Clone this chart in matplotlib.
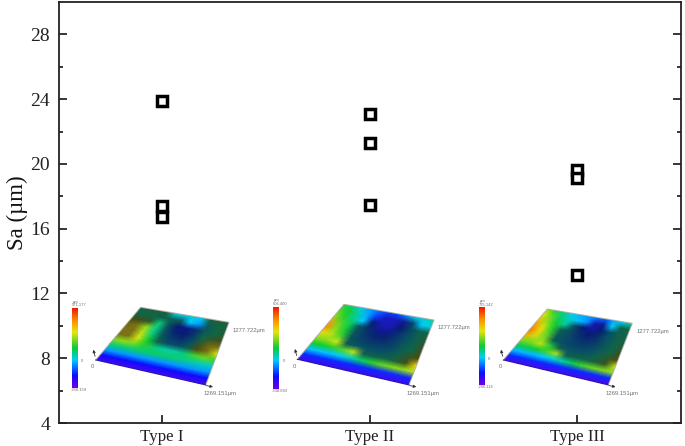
import numpy as np
import matplotlib
matplotlib.use('Agg')
import matplotlib.pyplot as plt
from matplotlib.colors import LinearSegmentedColormap

plt.rcParams['font.family'] = ['Liberation Serif', 'DejaVu Serif']

categorias = ['Type I', 'Type II', 'Type III']
sa_type1 = [23.9, 17.4, 16.7]
sa_type2 = [23.1, 21.3, 17.45]
sa_type3 = [19.6, 19.1, 13.15]

# surface maps read by eye, rows go front -> back
# positive = normal colour scale, negative = shaded crater colours
mapa1 = [[.06] * 11, [.15] * 11, [.30] * 11,
         [.45, .45, .45, .46, .46, .46, .46, .44, .42, .40, .40],
         [.60, .62, .60, .52, .45, .42, .42, .45, .55, .58, .55],
         [-.02, -.02, .68, .50, -.30, -.45, -.45, -.35, -.05, -.02, .68],
         [-.02, -.02, .66, .45, -.35, -.55, -.60, -.45, -.15, -.03, -.02],
         [-.03, -.02, .62, .44, -.40, -.65, -.70, -.55, -.25, -.15, -.10],
         [-.10, -.10, -.15, .45, -.40, -.70, -.80, -.60, -.35, -.25, -.20],
         [-.25, -.25, -.25, -.30, -.30, -.35, .35, .30, -.35, -.25, -.20],
         [-.25, -.20, -.20, -.20, .38, .36, .38, .36, -.20, -.20, -.20]]
mapa2 = [[.07] * 11, [.18] * 11,
         [.34, .34, .34, .36, .40, .46, .52, .58, .60, .62, .66],
         [.50, .50, .52, .56, .66, -.30, -.30, -.25, -.20, -.10, .74],
         [.62, .62, .68, -.35, -.40, -.45, -.45, -.40, -.30, -.15, -.05],
         [.72, .66, .55, -.40, -.50, -.55, -.55, -.50, -.35, -.25, -.10],
         [.85, .62, .50, -.40, -.55, -.65, -.65, -.55, -.40, -.30, -.15],
         [.82, .58, .48, -.40, -.60, -.80, -.80, -.60, -.45, -.30, -.20],
         [.62, .52, .44, .35, -.70, -.95, -.95, -.70, -.50, -.30, -.25],
         [.56, .50, .42, .32, .20, -1, -1, -.85, -.50, .35, .38],
         [.52, .46, .36, .30, .25, .20, .20, .28, .36, .38, .42]]
mapa3 = [[.05] * 11, [.18] * 11,
         [.33, .33, .33, .34, .38, .42, .48, .55, .58, .60, .62],
         [.48, .48, .50, .55, .64, -.30, -.28, -.25, -.20, -.12, .66],
         [.60, .60, .66, .52, -.35, -.40, -.42, -.38, -.28, -.15, -.05],
         [.80, .66, .60, -.35, -.45, -.50, -.52, -.48, -.35, -.25, -.12],
         [.88, .72, .56, -.35, -.45, -.55, -.60, -.55, -.40, -.28, -.18],
         [.84, .68, .52, -.30, -.45, -.60, -.70, -.60, -.42, -.30, -.22],
         [.76, .62, .50, .42, -.40, -.70, -.85, -.70, -.45, -.30, -.25],
         [.70, .58, .46, .40, .34, .30, -.95, -.80, .35, -.28, -.25],
         [.64, .52, .44, .36, .32, .30, .26, .24, .32, .36, .42]]
cantos1 = [(95.7, 360), (205.7, 385), (229, 322.3), (140.7, 307.3)]
cantos2 = [(297.3, 359.3), (409, 385), (434, 320), (344, 304.3)]
cantos3 = [(503.3, 360), (608.3, 385), (632.3, 323.3), (547.3, 309)]
barra1 = (71.7, 308, 77.3, 388)
barra2 = (273, 307, 278.7, 389)
barra3 = (478.7, 307.5, 484, 385)
escala1 = ('571.177', '-256.159')
escala2 = ('606.400', '-338.893')
escala3 = ('735.142', '-286.116')

cores = LinearSegmentedColormap.from_list('superficie', [
    (0, (.42, 0, .9)), (.15, (.05, .05, 1)), (.35, (0, .8, 1)),
    (.5, (.05, .8, .2)), (.7, (.9, .9, .05)), (.85, (1, .55, 0)), (1, (.95, .1, 0))])
cratera = LinearSegmentedColormap.from_list('cratera', [
    (0, (.60, .55, .10)), (.05, (.30, .28, .05)), (.25, (.06, .40, .28)),
    (.45, (.03, .30, .40)), (.7, (.03, .10, .45)), (1, (.10, .10, .75))])


def amplia(grade, n=12):
    lin = np.linspace(0, grade.shape[0] - 1, (grade.shape[0] - 1) * n + 1)
    col = np.linspace(0, grade.shape[1] - 1, (grade.shape[1] - 1) * n + 1)
    tmp = np.array([np.interp(col, range(grade.shape[1]), l) for l in grade])
    return np.array([np.interp(lin, range(grade.shape[0]), c) for c in tmp.T]).T


def desenha_mapa(ax, mapa, cantos, barra, escala):
    m = np.array(mapa, dtype=float)
    base = np.where(m[:, :, None] >= 0, cores(np.clip(m, 0, 1))[:, :, :3], cratera(np.clip(-m, 0, 1))[:, :, :3])
    rgb = np.dstack([amplia(base[:, :, k]) for k in range(3)])
    u = np.linspace(0, 1, rgb.shape[1] + 1)
    v = np.linspace(0, 1, rgb.shape[0] + 1)
    uu, vv = np.meshgrid(u, v)
    fl, fr, br, bl = [np.array(c) for c in cantos]
    xx = (1 - vv) * ((1 - uu) * fl[0] + uu * fr[0]) + vv * ((1 - uu) * bl[0] + uu * br[0])
    yy = (1 - vv) * ((1 - uu) * fl[1] + uu * fr[1]) + vv * ((1 - uu) * bl[1] + uu * br[1])
    ax.pcolormesh(xx, yy, rgb, shading='flat', rasterized=True, zorder=2)

    # contorno fino da caixa
    ax.plot([fl[0], bl[0], br[0], fr[0]], [fl[1], bl[1], br[1], fr[1]], color='#b0b0a8', lw=0.7, zorder=3)
    ax.plot([fl[0], fr[0]], [fl[1], fr[1]], color='#2020a0', lw=0.7, zorder=3)
    ax.annotate('', xy=(fl[0] - 3, fl[1] - 13), xytext=(fl[0], fl[1] - 1),
                arrowprops=dict(arrowstyle='-|>', color='#333333', lw=0.6, mutation_scale=4), zorder=3)
    ax.annotate('', xy=(fr[0] + 10, fr[1] + 2.5), xytext=(fr[0] - 2, fr[1]),
                arrowprops=dict(arrowstyle='-|>', color='#333333', lw=0.6, mutation_scale=4), zorder=3)

    x0, y0, x1, y1 = barra
    grad = cores(np.linspace(1, 0, 100))[:, None, :3]
    ax.imshow(grad, extent=(x0, x1, y1, y0), aspect='auto', zorder=2)
    texto = dict(color='#707070', family='Liberation Sans', va='center')
    ax.text(x0 + 1, y0 - 6.5, 'µm', fontsize=3, **texto)
    ax.text(x0, y0 - 3, escala[0], fontsize=3, **texto)
    ax.text(x0 - 1, y1 + 2, escala[1], fontsize=3, **texto)
    ax.text(x1 + 4, (y0 + y1) / 2 + 13, '0', fontsize=3, **texto)
    ax.text(fl[0] - 3, fl[1] + 7, '0', fontsize=4.2, ha='center', **texto)
    ax.text(br[0] + 4, br[1] + 8, '1277.722µm', fontsize=4.2, **texto)
    ax.text(fr[0] - 2.5, fr[1] + 8, '1269.151µm', fontsize=4.2, **texto)


figura = plt.figure(figsize=(6.85, 4.46), dpi=100)
ax = figura.add_axes([58.5 / 685, 1 - 423 / 446, 622.5 / 685, 421 / 446])

for i, valores in enumerate([sa_type1, sa_type2, sa_type3]):
    ax.plot([i + 1] * len(valores), valores, ls='none', marker='s', ms=6.6, mew=2.5,
            mfc='white', mec='black', zorder=5)

ax.set_xlim(0.5, 3.5)
ax.set_ylim(4, 30)
ax.set_xticks([1, 2, 3])
ax.set_xticklabels(categorias, fontsize=12.2, color='#222222')
ax.set_yticks(range(4, 30, 4))
ax.set_yticks(range(6, 30, 4), minor=True)
ax.tick_params(axis='y', which='major', direction='in', length=6, width=1.1, labelsize=14,
               labelcolor='#222222', right=True, pad=6)
ax.tick_params(axis='y', which='minor', direction='in', length=3, width=1.1, right=True)
ax.tick_params(axis='x', which='major', direction='in', length=6, width=1.1, pad=4)
ax.set_ylabel('Sa (µm)', fontsize=16.5, labelpad=2, color='#111111')
for lado in ax.spines.values():
    lado.set_linewidth(1.3)
    lado.set_color('#222222')

# camada em pixels para os mapas de superficie
mapas = figura.add_axes([0, 0, 1, 1], zorder=3)
mapas.patch.set_alpha(0)
desenha_mapa(mapas, mapa1, cantos1, barra1, escala1)
desenha_mapa(mapas, mapa2, cantos2, barra2, escala2)
desenha_mapa(mapas, mapa3, cantos3, barra3, escala3)
mapas.set_xlim(0, 685)
mapas.set_ylim(446, 0)
mapas.axis('off')

figura.savefig('out.png', dpi=100)
